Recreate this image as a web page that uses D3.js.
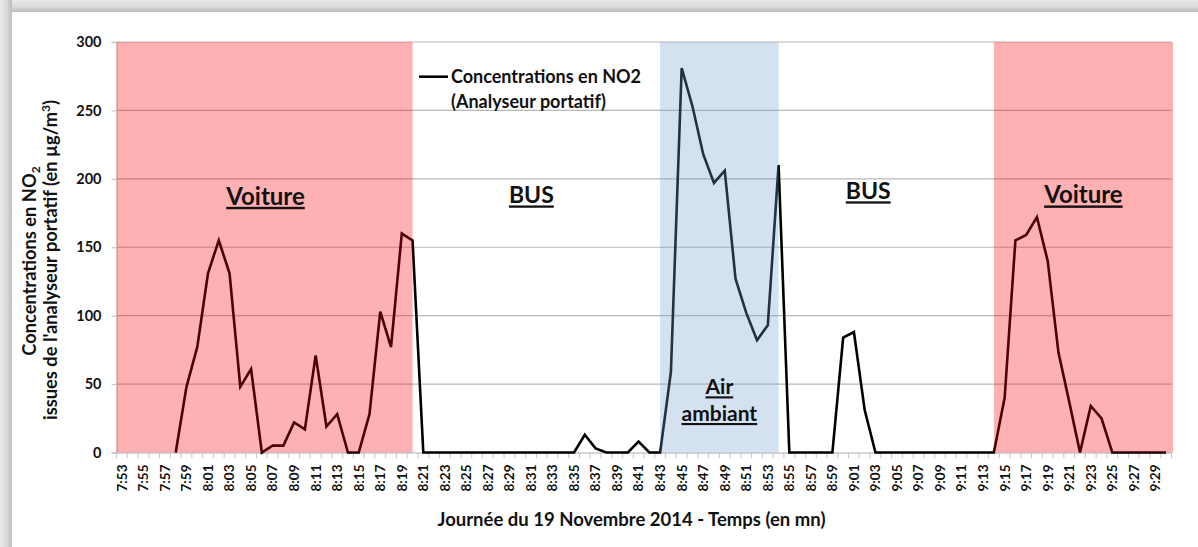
<!DOCTYPE html>
<html><head><meta charset="utf-8">
<script src="https://cdn.jsdelivr.net/npm/d3@7/dist/d3.min.js"></script>
<style>
html,body{margin:0;padding:0;background:#fff;}
svg{display:block;font-family:Lato,"Open Sans",sans-serif;}
</style></head>
<body><svg id="c" width="1198" height="547"></svg>
<script>
// ---------- DATA ----------
const categories = ["7:53","7:54","7:55","7:56","7:57","7:58","7:59","8:00","8:01","8:02","8:03","8:04","8:05","8:06","8:07","8:08","8:09","8:10","8:11","8:12","8:13","8:14","8:15","8:16","8:17","8:18","8:19","8:20","8:21","8:22","8:23","8:24","8:25","8:26","8:27","8:28","8:29","8:30","8:31","8:32","8:33","8:34","8:35","8:36","8:37","8:38","8:39","8:40","8:41","8:42","8:43","8:44","8:45","8:46","8:47","8:48","8:49","8:50","8:51","8:52","8:53","8:54","8:55","8:56","8:57","8:58","8:59","9:00","9:01","9:02","9:03","9:04","9:05","9:06","9:07","9:08","9:09","9:10","9:11","9:12","9:13","9:14","9:15","9:16","9:17","9:18","9:19","9:20","9:21","9:22","9:23","9:24","9:25","9:26","9:27","9:28","9:29","9:30"];
const no2 = [null,null,null,null,null,0,48,77,131,155,131,48,61,0,5,5,22,17,71,19,28,0,0,28,103,77,160,155,
  0,0,0,0,0,0,0,0,0,0,0,0,0,0,0,13,3,0,0,0,8,0,0,
  59,281,253,218,197,206,127,102,82,93,210,
  0,0,0,0,0,84,88,31,0,0,0,0,0,0,0,0,0,0,0,
  0,40,155,159,172,140,73,37,0,34,25,0,0,0,0,0,0];
const yTicks = [0,50,100,150,200,250,300];
const tickLabels = categories.filter((d,i)=>i%2===0);
const zoneStart = ["7:53","8:20","8:43","8:54","9:14"];
const zoneEnd   = ["8:20","8:43","8:54","9:14","9:30"];
const zoneKind  = ["car","bus","air","bus","car"];
const zoneLabel = [["Voiture"],["BUS"],["Air","ambiant"],["BUS"],["Voiture"]];
const seriesName = ["Concentrations en NO2","(Analyseur portatif)"];
const xTitle = "Journée du 19 Novembre 2014 - Temps (en mn)";

// ---------- LAYOUT ----------
const svg = d3.select("#c");
const L=116.5, R=1171.5, T=42, B=452.5;
const x = d3.scaleBand().domain(categories).range([L,R]).padding(0);
const bw = x.bandwidth();
const y = d3.scaleLinear().domain([0,300]).range([B,T]);
const cx = c => x(c)+bw/2;

// frame shadow bands
const defs = svg.append("defs");
const gT = defs.append("linearGradient").attr("id","gT").attr("x1",0).attr("y1",0).attr("x2",0).attr("y2",1);
gT.append("stop").attr("offset","0%").attr("stop-color","#e9e9e9");
gT.append("stop").attr("offset","55%").attr("stop-color","#dcdcdc");
gT.append("stop").attr("offset","100%").attr("stop-color","#b9b9b9");
const gL = defs.append("linearGradient").attr("id","gL").attr("x1",0).attr("y1",0).attr("x2",1).attr("y2",0);
gL.append("stop").attr("offset","0%").attr("stop-color","#e9e9e9");
gL.append("stop").attr("offset","55%").attr("stop-color","#dadada");
gL.append("stop").attr("offset","100%").attr("stop-color","#bcbcbc");
svg.append("rect").attr("x",0).attr("y",0).attr("width",1198).attr("height",12).attr("fill","url(#gT)");
svg.append("rect").attr("x",0).attr("y",0).attr("width",12).attr("height",547).attr("fill","url(#gL)");

// gridlines
svg.append("g").selectAll("line").data(yTicks.filter(d=>d>0)).join("line")
  .attr("x1",L).attr("x2",R).attr("y1",d=>y(d)).attr("y2",d=>y(d))
  .attr("stroke","#b8b8b8").attr("stroke-width",1.2);

// y axis
const ya = svg.append("g").attr("transform",`translate(${L},0)`)
  .call(d3.axisLeft(y).tickValues(yTicks).tickSize(5).tickPadding(10));
ya.select(".domain").attr("stroke","#c8c8c8").attr("stroke-width",1.3);
ya.selectAll(".tick line").attr("stroke","#c8c8c8").attr("stroke-width",1.2);
ya.selectAll(".tick text").attr("font-family","Lato").attr("font-weight","bold")
  .attr("font-size","14.5px").attr("fill","#111");

// x axis
const xa = svg.append("g").attr("transform",`translate(0,${B})`)
  .call(d3.axisBottom(x).tickValues(tickLabels).tickSize(0).tickPadding(0));
xa.select(".domain").attr("stroke","#c8c8c8").attr("stroke-width",1.3);
xa.selectAll(".tick text").attr("font-family","Lato").attr("font-weight","bold")
  .attr("font-size","13.5px").attr("fill","#111")
  .attr("transform","rotate(-90)").attr("text-anchor","end")
  .attr("x",-12).attr("y",0).attr("dy","0.36em");
svg.append("g").selectAll("line").data(categories.concat(["end"])).join("line")
  .attr("x1",d=>d==="end"?R:x(d)).attr("x2",d=>d==="end"?R:x(d))
  .attr("y1",B).attr("y2",B+5.5).attr("stroke","#c8c8c8").attr("stroke-width",1.1);

// series line
const line = d3.line().defined(d=>d[1]!==null).x(d=>cx(d[0])).y(d=>y(d[1]));
svg.append("path").datum(categories.map((c,i)=>[c,no2[i]]))
  .attr("d",line).attr("fill","none").attr("stroke","#000")
  .attr("stroke-width",2.6).attr("stroke-linejoin","miter");

// zones (semi-transparent overlays drawn on top)
const zoneFill = {car:"#ff0006", air:"#719ed2"};
const zx0 = i => zoneStart[i]===categories[0] ? L : cx(zoneStart[i]);
const zx1 = i => zoneEnd[i]===categories[categories.length-1] ? R+1.5 : cx(zoneEnd[i]);
zoneKind.forEach((k,i)=>{
  if(zoneFill[k]) svg.append("rect").attr("x",zx0(i)).attr("y",T).attr("width",zx1(i)-zx0(i))
    .attr("height",B-T).attr("fill",zoneFill[k]).attr("fill-opacity",0.31);
});

// zone labels
const labelDx = [1,-5,0,-18,0];
const labelVal = [[181],[182],[42.5,23],[185],[182]];
const labelSize = [24,23,21,23,24];
zoneKind.forEach((k,i)=>{
  const mx = (zx0(i)+zx1(i))/2 + labelDx[i];
  zoneLabel[i].forEach((t,j)=>{
    svg.append("text").attr("x",mx).attr("y",y(labelVal[i][j]))
      .attr("text-anchor","middle").attr("font-family","Lato").attr("font-weight","bold")
      .attr("font-size", labelSize[i]+"px").attr("fill","#111")
      .attr("text-decoration","underline").text(t);
  });
});

// legend
svg.append("line").attr("x1",419).attr("x2",448).attr("y1",76.7).attr("y2",76.7)
  .attr("stroke","#000").attr("stroke-width",2.6);
seriesName.forEach((t,j)=>{
  svg.append("text").attr("x",451).attr("y",83+24.5*j).attr("font-family","Lato")
    .attr("font-weight","bold").attr("font-size","18px").attr("fill","#111").text(t);
});

// y title
const yt1 = svg.append("text").attr("transform","translate(35.5,261) rotate(-90)")
  .attr("text-anchor","middle").attr("font-family","Lato").attr("font-weight","bold")
  .attr("font-size","18.3px").attr("fill","#111");
yt1.append("tspan").text("Concentrations en NO");
yt1.append("tspan").attr("font-size","12px").attr("dy","4.5").text("2");
const yt2 = svg.append("text").attr("transform","translate(56.5,260) rotate(-90)")
  .attr("text-anchor","middle").attr("font-family","Lato").attr("font-weight","bold")
  .attr("font-size","18.3px").attr("fill","#111");
yt2.append("tspan").text("issues de l'analyseur portatif (en µg/m");
yt2.append("tspan").attr("font-size","12px").attr("dy","-7").text("3");
yt2.append("tspan").attr("dy","7").text(")");

// x title
svg.append("text").attr("x",631.5).attr("y",526).attr("text-anchor","middle")
  .attr("font-family","Lato").attr("font-weight","bold").attr("font-size","18.5px")
  .attr("fill","#111").text(xTitle);
</script></body></html>
